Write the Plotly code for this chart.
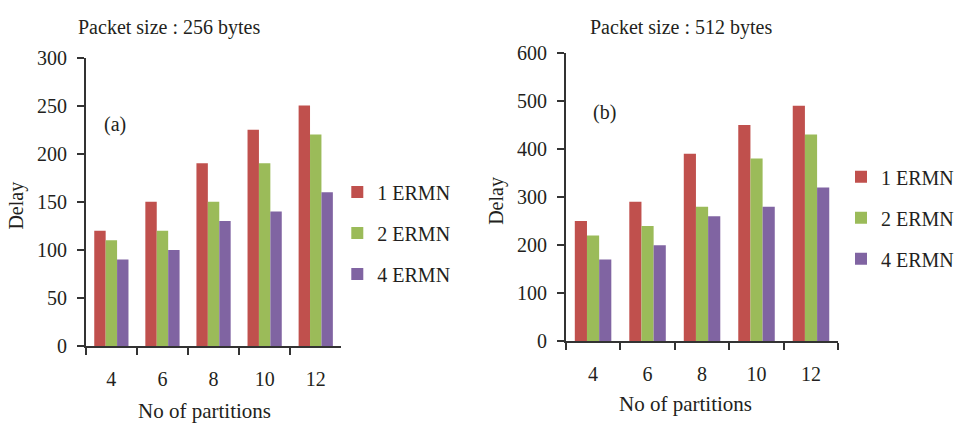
import plotly.graph_objects as go

categories = ["4", "6", "8", "10", "12"]
series_names = ["1 ERMN", "2 ERMN", "4 ERMN"]
colors = ["#C0504D", "#9BBB59", "#8064A2"]

delay_256 = {
    "1 ERMN": [120, 150, 190, 225, 250],
    "2 ERMN": [110, 120, 150, 190, 220],
    "4 ERMN": [90, 100, 130, 140, 160],
}
delay_512 = {
    "1 ERMN": [250, 290, 390, 450, 490],
    "2 ERMN": [220, 240, 280, 380, 430],
    "4 ERMN": [170, 200, 260, 280, 320],
}

W, H = 959, 434
FONT = "Liberation Serif"
TXT = "#231F20"

fig = go.Figure()
for i, name in enumerate(series_names):
    fig.add_trace(go.Bar(x=categories, y=delay_256[name], name=name,
                         marker=dict(color=colors[i], line=dict(width=0)),
                         xaxis="x", yaxis="y", legend="legend", legendgroup="a" + str(i)))
for i, name in enumerate(series_names):
    fig.add_trace(go.Bar(x=categories, y=delay_512[name], name=name,
                         marker=dict(color=colors[i], line=dict(width=0)),
                         xaxis="x2", yaxis="y2", legend="legend2", legendgroup="b" + str(i)))

def px_x(v):
    return v / W

def px_y(v):
    return 1 - v / H

base = dict(showline=True, linecolor="#333", linewidth=1.5, ticks="outside",
            ticklen=7, tickcolor="#333", tickwidth=1.5, showgrid=False, zeroline=False,
            tickfont=dict(family=FONT, size=20, color=TXT))
xax = dict(base, type="category", tickson="boundaries", ticklabelstandoff=14)
yax = dict(base, ticklabelstandoff=6)

fig.update_layout(
    width=W, height=H, margin=dict(l=0, r=0, t=0, b=0),
    paper_bgcolor="white", plot_bgcolor="white",
    barmode="group", bargap=0.33, bargroupgap=0,
    font=dict(family=FONT, size=20, color=TXT),
    xaxis=dict(xax, domain=[px_x(86), px_x(342)], anchor="y"),
    yaxis=dict(yax, domain=[px_y(353), px_y(49)], anchor="x", range=[0, 300], dtick=50),
    xaxis2=dict(xax, domain=[px_x(567), px_x(840)], anchor="y2"),
    yaxis2=dict(yax, domain=[px_y(348), px_y(44)], anchor="x2", range=[0, 600], dtick=100),
    legend=dict(x=px_x(338), y=px_y(170), xanchor="left", yanchor="top",
                traceorder="grouped", tracegroupgap=12, bgcolor="rgba(0,0,0,0)",
                font=dict(family=FONT, size=20, color=TXT)),
    legend2=dict(x=px_x(843), y=px_y(154), xanchor="left", yanchor="top",
                 traceorder="grouped", tracegroupgap=12, bgcolor="rgba(0,0,0,0)",
                 font=dict(family=FONT, size=20, color=TXT)),
)

ann = [
    dict(text="Packet size : 256 bytes", x=px_x(169), y=px_y(17), size=20),
    dict(text="Packet size : 512 bytes", x=px_x(682), y=px_y(17), size=20),
    dict(text="(a)", x=px_x(115), y=px_y(120), size=20),
    dict(text="(b)", x=px_x(606), y=px_y(107), size=20),
    dict(text="No of partitions", x=px_x(205), y=px_y(421), size=21),
    dict(text="No of partitions", x=px_x(687), y=px_y(414), size=21),
]
for a in ann:
    fig.add_annotation(text=a["text"], x=a["x"], y=a["y"], xref="paper", yref="paper",
                       showarrow=False, xanchor="center", yanchor="middle",
                       font=dict(family=FONT, size=a["size"], color=TXT))
for xx, yy in [(17, 205), (498, 200)]:
    fig.add_annotation(text="Delay", x=px_x(xx), y=px_y(yy), xref="paper", yref="paper",
                       showarrow=False, xanchor="center", yanchor="middle", textangle=-90,
                       font=dict(family=FONT, size=20, color=TXT))

fig.write_html("out.html")
